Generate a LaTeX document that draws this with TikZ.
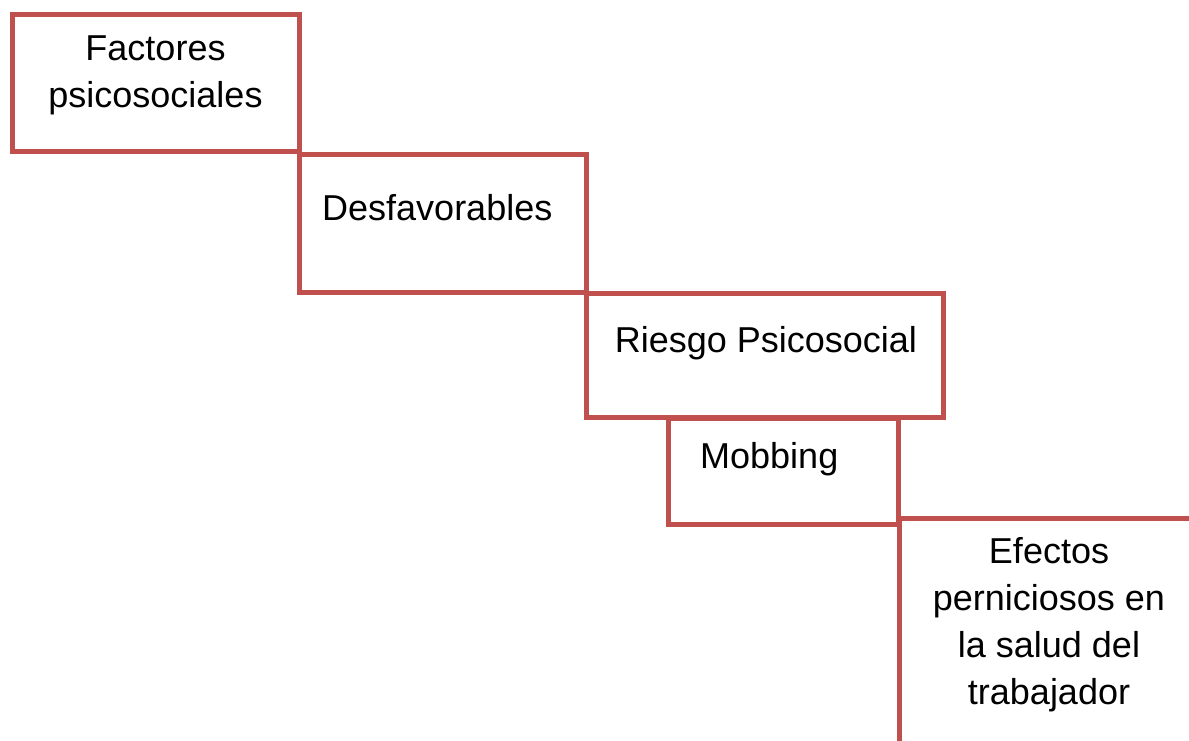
\documentclass[tikz,border=0pt]{standalone}
\usepackage{fontspec}
\setmainfont{Liberation Sans}
\definecolor{boxred}{HTML}{C0504D}
\begin{document}
\begin{tikzpicture}[
        x = 1pt, y = -1pt,
        stepbox/.style = {draw = boxred, line width = 5pt, rectangle, inner sep = 0pt},
        boxtext/.style = {font = \fontsize{36}{47}\selectfont, inner sep = 0pt, anchor = base, align = center}
      ]
      \useasboundingbox (0, 0) rectangle (1189, 740);
      \clip (0, 0) rectangle (1189, 740);
      % boxes
      \node[stepbox, minimum width = 287pt, minimum height = 137pt] (factores) at (155.5, 82.5) {};
      \node[stepbox, minimum width = 287pt, minimum height = 138pt] (desfav)   at (442.5, 223)  {};
      \node[stepbox, minimum width = 357pt, minimum height = 124pt] (riesgo)   at (764.5, 355)  {};
      \node[stepbox, minimum width = 230pt, minimum height = 106pt] (mobbing)  at (783, 471)    {};
      \node[stepbox, minimum width = 401pt, minimum height = 382pt] (efectos)  at (1099.5, 709) {};
      % texts (base = last line)
      \node[boxtext] (factores-t) at (155.5, 107) {Factores\\psicosociales};
      \node[boxtext, anchor = base west] (desfav-t) at (322, 220) {Desfavorables};
      \node[boxtext] (riesgo-t) at (766, 352) {Riesgo Psicosocial};
      \node[boxtext, anchor = base west] (mobbing-t) at (700, 468) {Mobbing};
      \node[boxtext] (efectos-t) at (1049, 704) {Efectos\\perniciosos en\\la salud del\\trabajador};
    \end{tikzpicture}
\end{document}
